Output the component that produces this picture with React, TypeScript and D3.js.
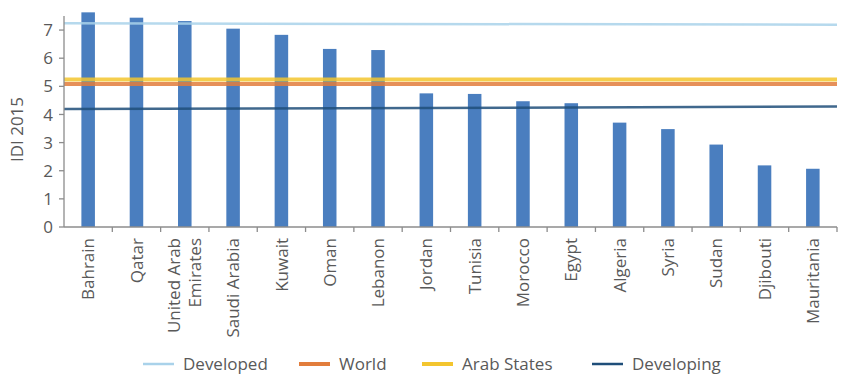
import React from "react";
import * as d3 from "d3";

const categories = [
  "Bahrain", "Qatar", "United Arab Emirates", "Saudi Arabia", "Kuwait", "Oman", "Lebanon",
  "Jordan", "Tunisia", "Morocco", "Egypt", "Algeria", "Syria", "Sudan", "Djibouti", "Mauritania",
];
const idiValues = [7.63, 7.44, 7.32, 7.05, 6.83, 6.33, 6.29, 4.75, 4.73, 4.47, 4.4, 3.71, 3.48, 2.93, 2.19, 2.07];

// reference lines: value at left edge and right edge of the plot
const refNames = ["Developed", "World", "Arab States", "Developing"];
const developed = [7.24, 7.19];
const world = [5.08, 5.08];
const arabStates = [5.24, 5.24];
const developing = [4.19, 4.28];
const yTicks = [0, 1, 2, 3, 4, 5, 6, 7];

const W = 850, H = 380;
const M = { left: 64, right: 13, top: 16, bottom: 153 };
const FONT = "'Open Sans', sans-serif";
const TXT = "#595959";
const AXIS = "#8c8c8c";
const BAR = "#4a7ebf";
const refColors = ["#a9d2ea", "#e27d3c", "#f3c52e", "#1f4e79"];
const refWidths = [2.5, 4, 4, 2.5];
const refSeries = [developed, world, arabStates, developing];
const labelLines: Record<string, string[]> = { "United Arab Emirates": ["United Arab", "Emirates"] };

export default function App() {
  const x = d3.scaleBand<string>().domain(categories).range([M.left, W - M.right]).paddingInner(0.72).paddingOuter(0.36);
  const xb = d3.scaleBand<string>().domain(categories).range([M.left, W - M.right]);
  const y = d3.scaleLinear().domain([0, 7.5]).range([H - M.bottom, M.top]);
  const xl = d3.scaleLinear().domain([0, 1]).range([M.left, W - M.right]);
  const line = d3.line<number>().x((_, i) => xl(i)).y((v) => y(v));
  const y0 = y(0);

  const legendX = [143, 299, 422, 592];

  return (
    <svg width={W} height={H} style={{ position: "absolute", left: 0, top: 0, background: "#fff" }} fontFamily={FONT}>
      {/* bars */}
      {categories.map((c, i) => (
        <rect key={c} x={x(c)} y={y(idiValues[i])} width={x.bandwidth()} height={y0 - y(idiValues[i])} fill={BAR} />
      ))}
      {/* reference lines */}
      {refSeries.map((s, i) => (
        <path key={refNames[i]} d={line(s) || ""} fill="none" stroke={refColors[i]} strokeWidth={refWidths[i]} strokeOpacity={0.85} />
      ))}
      {/* y axis */}
      <line x1={M.left} x2={M.left} y1={y(7.5)} y2={y0} stroke={AXIS} strokeWidth={1.3} />
      {yTicks.map((t) => (
        <g key={t}>
          <line x1={M.left - 5} x2={M.left} y1={y(t)} y2={y(t)} stroke={AXIS} strokeWidth={1.3} />
          <text x={M.left - 11} y={y(t)} dy="0.36em" textAnchor="end" fontSize={17} fill={TXT}>{t}</text>
        </g>
      ))}
      <text transform={`translate(23,${(y(7.5) + y0) / 2 + 8}) rotate(-90)`} textAnchor="middle" fontSize={17} fill={TXT}>IDI 2015</text>
      {/* x axis */}
      <line x1={M.left} x2={W - M.right} y1={y0} y2={y0} stroke={AXIS} strokeWidth={1.3} />
      {categories.map((c) => (
        <line key={c} x1={(xb(c) || 0) + xb.bandwidth()} x2={(xb(c) || 0) + xb.bandwidth()} y1={y0} y2={y0 + 5} stroke={AXIS} strokeWidth={1.3} />
      ))}
      {categories.map((c) => {
        const cx = (xb(c) || 0) + xb.bandwidth() / 2;
        const lines = labelLines[c] || [c];
        const n = lines.length;
        return (
          <text key={c} transform={`translate(${cx},${y0 + 11}) rotate(-90)`} textAnchor="end" fontSize={17} fill={TXT}>
            {lines.map((l, j) => (
              <tspan key={j} x={0} y={(j - (n - 1) / 2) * 21} dy="0.36em">{l}</tspan>
            ))}
          </text>
        );
      })}
      {/* legend */}
      {refNames.map((n, i) => (
        <g key={n}>
          <line x1={legendX[i]} x2={legendX[i] + 31} y1={364} y2={364} stroke={refColors[i]} strokeWidth={refWidths[i]} />
          <text x={legendX[i] + 40} y={364} dy="0.36em" fontSize={17} fill={TXT}>{n}</text>
        </g>
      ))}
    </svg>
  );
}
